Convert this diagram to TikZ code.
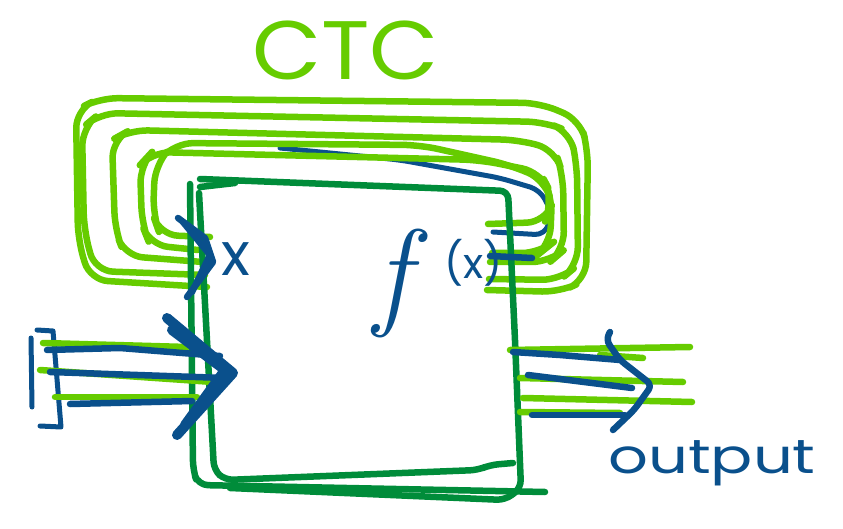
\documentclass[tikz,border=0pt]{standalone}
\usepackage{fontspec}
\newfontfamily\hand{Poppins}
\definecolor{lgreen}{RGB}{102,204,0}
\definecolor{dgreen}{RGB}{0,140,58}
\definecolor{dblue}{RGB}{10,80,140}
\tikzset{
  lg/.style={draw=lgreen, line width=6.5pt, line cap=round, line join=round, rounded corners=18pt},
  dg/.style={draw=dgreen, line width=6.5pt, line cap=round, line join=round, rounded corners=8pt},
  bl/.style={draw=dblue, line width=6.5pt, line cap=round, line join=round},
  blthin/.style={bl, line width=5pt},
  blthick/.style={bl, line width=10pt},
  txt/.style={inner sep=0pt, anchor=base west},
}
\begin{document}
\begin{tikzpicture}[x=1pt,y=-1pt]
\useasboundingbox (0,0) rectangle (843,529);
% title
\node[txt, text=lgreen, xscale=1.08] (ctc) at (252,80) {\hand\fontsize{83}{83}\selectfont CTC};
% blue feedback line (under the loops)
\draw[blthin, rounded corners=10pt] (493,232) -- (545,235) -- (552,213) -- (540,190) -- (500,178) -- (400,160) -- (280,148);
% feedback loops
\draw[lg] (207,287) -- (90,280) -- (78,240) -- (76,110) -- (100,98) -- (540,103) -- (580,120) -- (588,150) -- (586,280) -- (560,292) -- (487,290);
\draw[lg] (205,275) -- (95,271) -- (84,230) -- (82,128) -- (100,113) -- (545,122) -- (570,132) -- (577,165) -- (578,265) -- (560,280) -- (489,279);
\draw[lg] (203,262) -- (125,256) -- (115,230) -- (112,140) -- (130,130) -- (520,140) -- (555,150) -- (563,175) -- (564,250) -- (550,262) -- (490,262);
\draw[lg] (198,250) -- (150,245) -- (142,225) -- (140,165) -- (152,152) -- (480,160) -- (540,172) -- (552,195) -- (550,245) -- (540,253) -- (492,253);
\draw[lg] (210,237) -- (160,235) -- (153,215) -- (155,165) -- (175,143) -- (420,145) -- (510,165) -- (545,180) -- (552,205) -- (545,222) -- (488,224);
% the box
\draw[dg] (200,179) -- (508,191) -- (515,340) -- (521,488) -- (505,500) -- (230,488);
\draw[dg] (200,187) -- (235,183);
\draw[dg, rounded corners=10pt] (190,184) -- (193,470) -- (198,485) -- (545,492);
\draw[dg] (199,193) -- (214,470) -- (225,480) -- (478,470) -- (490,465) -- (513,463);
% input x
\draw[bl] (178,218) -- (205,238) -- (213,262) -- (187,297);
\draw[bl] (183,222) -- (210,255) -- (192,292);
\node[txt, text=dblue] (xin) at (221,276) {\hand\fontsize{60}{60}\selectfont x};
% f(x)
\node[txt, text=dblue] (f) at (374,313) {\fontsize{120}{120}\selectfont\itshape f};
\node[txt, text=dblue] (fx) at (444,279) {\hand\fontsize{42}{42}\selectfont (x)};
\draw[bl] (490,256) -- (532,258);
% input arrow
\draw[blthin] (31,338) -- (32,407);
\draw[blthin] (37,330) -- (53,331) -- (61,427) -- (40,426);
\draw[lg, rounded corners=0pt] (43,343) -- (187,347);
\draw[lg, rounded corners=0pt] (40,370) -- (213,382);
\draw[lg, rounded corners=0pt] (55,397) -- (197,397);
\draw[bl] (47,350) -- (120,348) -- (220,356);
\draw[bl] (50,372) -- (225,378);
\draw[bl] (70,404) -- (192,401);
\draw[blthick] (167,318) -- (233,373) -- (177,435);
\draw[blthick] (172,330) -- (225,370) -- (185,425);
% output arrow
\draw[lg, rounded corners=0pt] (510,350) -- (690,347);
\draw[lg, rounded corners=0pt] (600,355) -- (643,358);
\draw[lg, rounded corners=0pt] (520,378) -- (683,382);
\draw[lg, rounded corners=0pt] (523,398) -- (692,402);
\draw[lg, rounded corners=0pt] (520,412) -- (620,413);
\draw[bl] (513,352) -- (560,355) -- (620,360);
\draw[bl] (528,375) -- (632,388);
\draw[bl] (532,415) -- (625,415);
\draw[bl, rounded corners=6pt] (610,332) -- (606,340) -- (620,360) -- (652,385) -- (634,410) -- (613,430);
\node[txt, text=dblue, xscale=1.3] (out) at (608,473) {\hand\fontsize{48}{48}\selectfont output};
\end{tikzpicture}
\end{document}
